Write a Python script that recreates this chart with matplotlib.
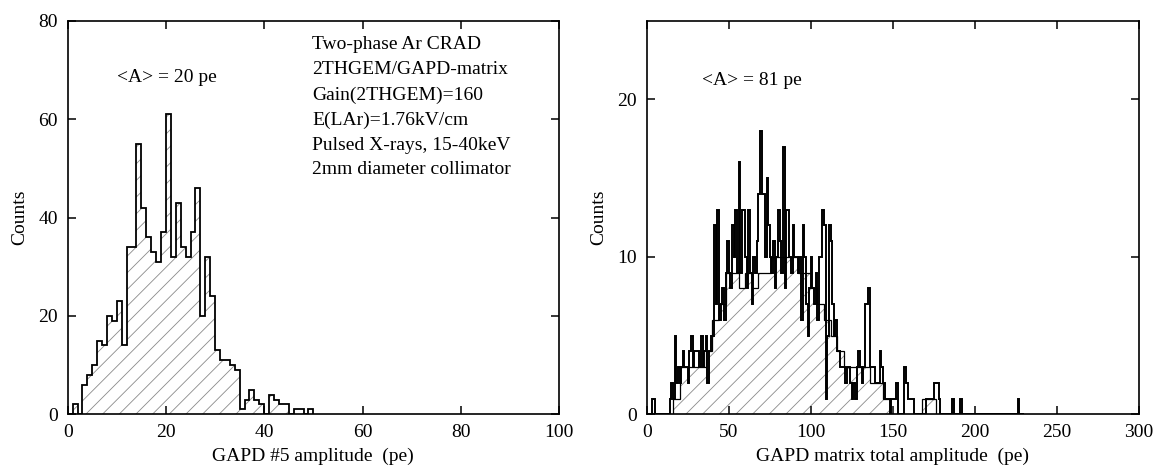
import numpy as np
import matplotlib
matplotlib.use('Agg')
import matplotlib.pyplot as plt

plt.rcParams['font.family'] = ['Liberation Serif', 'DejaVu Serif']
plt.rcParams['hatch.linewidth'] = 0.6

# ---------------- data ----------------
# Left: GAPD #5 amplitude histogram, 1 pe bins from 0 to 50
left_edges = list(range(0, 51))
left_counts = [0, 2, 0, 6, 8, 10, 15, 14, 20, 19,
               23, 14, 34, 34, 55, 42, 36, 33, 31, 37,
               61, 32, 43, 34, 32, 37, 46, 20, 32, 24,
               13, 11, 11, 10, 9, 1, 3, 5, 3, 2,
               0, 4, 3, 2, 2, 0, 1, 1, 0, 1]

# Right: GAPD matrix total amplitude, fine histogram (1 pe bins, 0..230)
right_fine_edges = list(range(0, 231))
right_fine_counts = [
    0, 0, 0, 1, 1, 0, 0, 0, 0, 0,
    0, 0, 0, 0, 1, 2, 1, 5, 2, 3,
    2, 3, 4, 3, 3, 2, 4, 5, 3, 4,
    4, 4, 3, 5, 3, 4, 5, 2, 4, 5,
    5, 12, 7, 13, 6, 7, 8, 6, 9, 11,
    9, 8, 12, 10, 13, 9, 16, 9, 13, 13,
    10, 8, 13, 9, 7, 10, 9, 11, 14, 18,
    14, 14, 10, 15, 12, 10, 9, 11, 8, 10,
    13, 11, 9, 17, 8, 13, 13, 10, 9, 12,
    10, 10, 9, 10, 6, 12, 10, 7, 5, 8,
    10, 8, 7, 9, 6, 10, 10, 13, 12, 1,
    5, 12, 11, 7, 5, 6, 4, 4, 3, 3,
    3, 2, 3, 3, 2, 1, 2, 1, 3, 4,
    3, 2, 3, 7, 7, 8, 3, 3, 3, 2,
    2, 2, 4, 3, 2, 1, 1, 1, 0, 1,
    1, 1, 2, 0, 0, 0, 0, 3, 2, 1,
    1, 1, 1, 0, 0, 0, 0, 0, 0, 0,
    1, 1, 1, 1, 1, 2, 2, 2, 1, 0,
    0, 0, 0, 0, 0, 0, 1, 0, 0, 0,
    0, 1, 0, 0, 0, 0, 0, 0, 0, 0,
    0, 0, 0, 0, 0, 0, 0, 0, 0, 0,
    0, 0, 0, 0, 0, 0, 0, 0, 0, 0,
    0, 0, 0, 0, 0, 0, 1, 0, 0, 0]

# Right: coarse (hatched) histogram, 4 pe bins from 16 to 176
right_coarse_edges = list(range(16, 177, 4))
right_coarse_counts = [1, 3, 3, 3, 3, 4, 6, 7, 9, 9,
                       8, 9, 8, 9, 9, 10, 10, 10, 10, 9,
                       9, 8, 7, 6, 5, 4, 3, 3, 3, 3,
                       2, 2, 1, 0, 0, 0, 0, 0, 1, 1]

left_xticks = [0, 20, 40, 60, 80, 100]
left_yticks = [0, 20, 40, 60, 80]
right_xticks = [0, 50, 100, 150, 200, 250, 300]
right_yticks = [0, 10, 20]

info_lines = ["Two-phase Ar CRAD", "2THGEM/GAPD-matrix", "Gain(2THGEM)=160",
              "E(LAr)=1.76kV/cm", "Pulsed X-rays, 15-40keV",
              "2mm diameter collimator"]

# ---------------- figure ----------------
FS = 14
fig = plt.figure(figsize=(11.57, 4.67), dpi=100)
ax1 = fig.add_axes([0.0585, 0.1128, 0.4247, 0.8429])
ax2 = fig.add_axes([0.559, 0.1128, 0.4254, 0.8429])

HATCH_C = '#8a8a8a'

# left histogram
ax1.stairs(left_counts, left_edges, fill=True, facecolor='none',
           edgecolor=HATCH_C, hatch='//', linewidth=0)
ax1.stairs(left_counts, left_edges, baseline=0, color='black', linewidth=1.3)

# right histograms
ax2.stairs(right_coarse_counts, right_coarse_edges, fill=True, facecolor='none',
           edgecolor=HATCH_C, hatch='//', linewidth=0)
ax2.stairs(right_coarse_counts, right_coarse_edges, baseline=0,
           color='black', linewidth=0.9)
ax2.stairs(right_fine_counts, right_fine_edges, baseline=0,
           color='black', linewidth=1.4)

for ax, xt, yt, xl, yl in [(ax1, left_xticks, left_yticks, (0, 100), (0, 80)),
                           (ax2, right_xticks, right_yticks, (0, 300), (0, 25))]:
    ax.set_xlim(*xl)
    ax.set_ylim(*yl)
    ax.set_xticks(xt)
    ax.set_yticks(yt)
    ax.tick_params(direction='in', top=True, right=True, length=6, width=1.1,
                   labelsize=FS, pad=7)
    for s in ax.spines.values():
        s.set_linewidth(1.2)
    ax.set_ylabel('Counts', fontsize=FS, labelpad=7)

ax1.set_xlabel('GAPD #5 amplitude  (pe)', fontsize=FS, labelpad=5)
ax2.set_xlabel('GAPD matrix total amplitude  (pe)', fontsize=FS, labelpad=5)

ax1.text(10, 68.4, '<A> = 20 pe', fontsize=FS, ha='left', va='center')
ax2.text(33.5, 21.2, '<A> = 81 pe', fontsize=FS, ha='left', va='center')

info_y = [75.1, 70.0, 64.9, 59.8, 54.7, 49.8]
for yv, line in zip(info_y, info_lines):
    ax1.text(49.8, yv, line, fontsize=FS, ha='left', va='center')

fig.savefig('out.png', dpi=100)
